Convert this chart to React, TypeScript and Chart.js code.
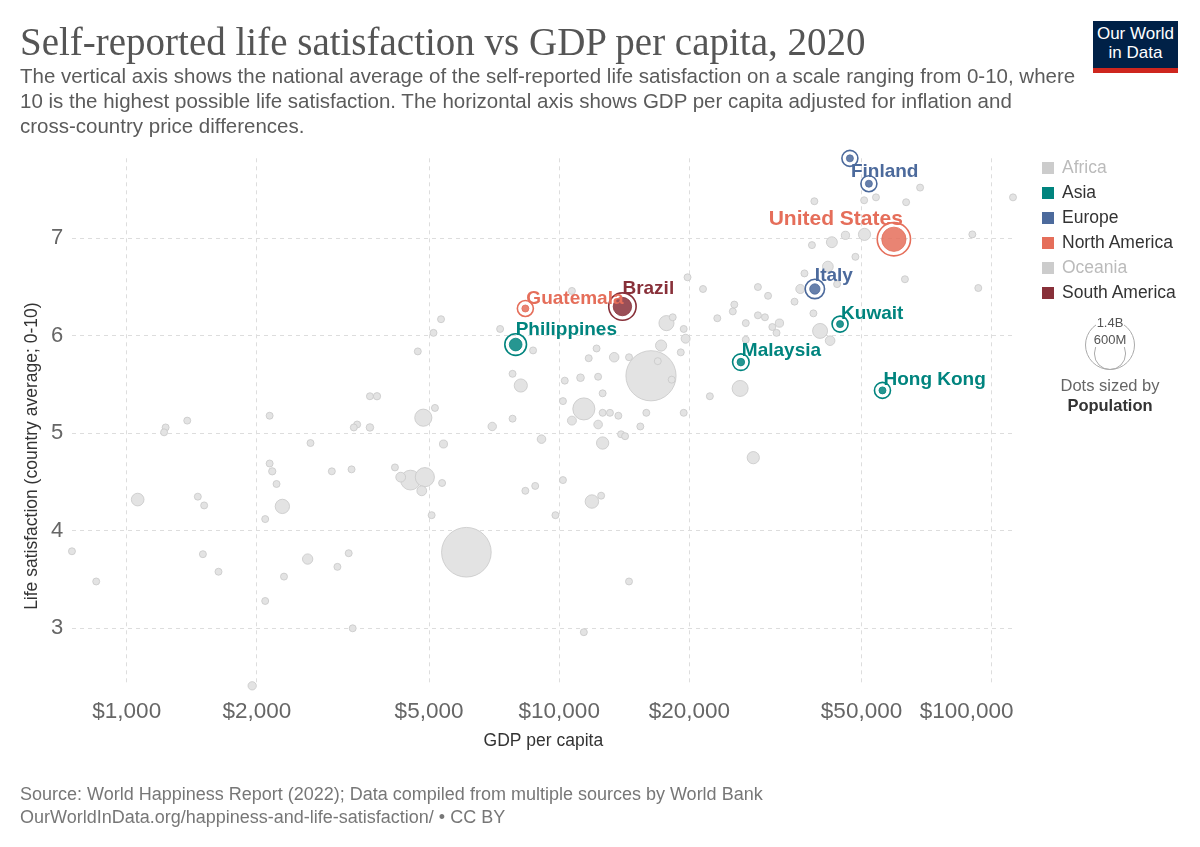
import React, { useEffect, useRef } from "react";
import { Chart, registerables } from "chart.js";

Chart.register(...registerables);

// ---------- data ----------
const xTickValues = [1000, 2000, 5000, 10000, 20000, 50000, 100000];
const yTickValues = [3, 4, 5, 6, 7];

const continents = ["Africa", "Asia", "Europe", "North America", "Oceania", "South America"];
const continentActive = [false, true, true, true, false, true];

// background (grey) countries: GDP per capita, life satisfaction, population (millions)
const bgGdp = [
  68300, 112000, 38900, 50700, 54000, 63400, 42700, 45900, 50800, 90200,
  38400, 48400, 41800, 36900, 63000, 93100, 36100, 28800, 30400, 35000,
  43900, 25400, 25200, 38700, 23200, 28800, 29900, 27000, 32300, 31100,
  31800, 40100, 42300, 27000, 26200, 19800, 21500, 10700, 17700, 18300,
  19400, 19600, 17200, 19100, 12200, 11700, 13400, 14500, 16900, 16300,
  18200, 10300, 11200, 12300, 12600, 10200, 22300, 11400, 12600, 13100,
  13700, 15900, 19400, 10700, 12300, 15400, 9100, 12600, 13900, 14200,
  7800, 7000, 5400, 28100, 10200, 8350, 8800, 11900, 12500, 9800,
  14500, 11400, 6100, 7300, 5330, 5120, 4710, 8700, 7800, 8150,
  3650, 3790, 5160, 4850, 3350, 3410, 3650, 4170, 4300, 4530,
  4890, 4810, 5360, 5070, 2140, 1380, 1230, 1220, 2660, 2140,
  2170, 2220, 2980, 3310, 1060, 1460, 1510, 2290, 2090, 747,
  850, 1500, 1630, 2620, 3260, 3070, 2310, 2090, 3330, 1950,
];
const bgLife = [
  7.52, 7.42, 7.38, 7.39, 7.42, 7.37, 6.96, 7.03, 7.04, 7.04,
  6.93, 6.81, 6.71, 6.64, 6.58, 6.49, 6.48, 6.50, 6.41, 6.35,
  6.53, 6.32, 6.25, 6.23, 6.18, 6.21, 6.19, 6.13, 6.13, 6.09,
  6.03, 6.05, 5.95, 5.96, 5.46, 6.60, 6.48, 6.46, 6.13, 6.19,
  6.07, 5.97, 5.90, 5.83, 5.87, 5.77, 5.78, 5.78, 5.74, 5.59,
  5.55, 5.54, 5.57, 5.58, 5.41, 5.33, 5.38, 5.25, 5.21, 5.21,
  5.18, 5.21, 5.21, 5.13, 5.09, 5.07, 4.94, 4.90, 4.99, 4.97,
  5.15, 5.07, 4.89, 4.75, 4.52, 4.41, 4.46, 4.30, 4.36, 4.16,
  3.48, 2.96, 3.78, 6.07, 6.17, 6.03, 5.84, 5.85, 5.61, 5.49,
  5.38, 5.38, 5.26, 5.16, 5.06, 5.09, 5.06, 4.65, 4.55, 4.52,
  4.55, 4.41, 4.49, 4.16, 5.18, 5.13, 5.06, 5.01, 4.90, 4.69,
  4.61, 4.48, 4.61, 4.63, 4.32, 4.35, 4.26, 4.25, 4.12, 3.79,
  3.48, 3.76, 3.58, 3.71, 3.77, 3.63, 3.53, 3.28, 3.00, 2.41,
];
const bgPop = [
  9, 0.6, 10, 9, 17, 8, 67, 38, 83, 5,
  9, 5, 65, 10, 3, 1, 47, 2, 10, 9,
  26, 1.3, 2, 5, 3, 10, 4, 2.8, 38, 5.5,
  2, 126, 52, 4, 144, 0.5, 3.5, 6, 128, 3,
  19, 45, 70, 7, 6.5, 3.5, 51, 10, 2, 1410,
  7, 17, 33, 7, 4, 11, 7, 273, 3, 2,
  6, 2, 2, 45, 42, 2.8, 41, 85, 10, 7,
  7, 40, 36, 84, 7, 2, 4, 102, 10, 7,
  2, 7, 1380, 6.5, 0.4, 6, 3, 10, 9, 97,
  17, 30, 8, 165, 7, 12, 32, 9, 54, 220,
  206, 54, 17, 10, 8, 8, 19, 6, 26, 12,
  30, 19, 12, 17, 90, 17, 20, 115, 26, 12,
  5, 19, 14, 60, 8, 16, 17, 19, 2, 39,
];

// highlighted countries
const hlNames = ["Finland", "Denmark", "United States", "Italy", "Kuwait", "Malaysia", "Hong Kong", "Philippines", "Guatemala", "Brazil"];
const hlContinent = ["Europe", "Europe", "North America", "Europe", "Asia", "Asia", "Asia", "Asia", "North America", "South America"];
const hlGdp = [47000, 52000, 59400, 39000, 44600, 26300, 55900, 7930, 8350, 14000];
const hlLife = [7.82, 7.56, 6.99, 6.48, 6.12, 5.73, 5.44, 5.91, 6.28, 6.30];
const hlPop = [5.5, 5.8, 330, 60, 4.3, 32, 7.5, 90, 17, 190];
const hlShowLabel = [true, false, true, true, true, true, true, true, true, true];

const sizeLegendPops = [1400, 600];
const sizeLegendLabels = ["1.4B", "600M"];

// ---------- styles ----------
const SANS = '"Liberation Sans", Arial, Helvetica, sans-serif';
const SERIF = '"Liberation Serif", "Times New Roman", serif';

const COLORS: Record<string, string> = {
  Africa: "#cccccc",
  Asia: "#00847e",
  Europe: "#4c6a9c",
  "North America": "#e56e5a",
  Oceania: "#cccccc",
  "South America": "#883039",
};

const LABEL_STYLE: Record<string, { dx: number; dy: number; align: CanvasTextAlign; size: number }> = {
  Finland: { dx: 1, dy: 13, align: "left", size: 19 },
  "United States": { dx: 9, dy: -20, align: "right", size: 21 },
  Italy: { dx: 0, dy: -13, align: "left", size: 19 },
  Kuwait: { dx: 1, dy: -10, align: "left", size: 19 },
  Malaysia: { dx: 1, dy: -11, align: "left", size: 19 },
  "Hong Kong": { dx: 1, dy: -11, align: "left", size: 19 },
  Philippines: { dx: 0, dy: -15, align: "left", size: 19 },
  Guatemala: { dx: 1, dy: -10, align: "left", size: 19 },
  Brazil: { dx: 0, dy: -18, align: "left", size: 19 },
};

const MAX_R = 25;
const MIN_R = 3.5;
const radiusFor = (pop: number) => Math.max(MIN_R, MAX_R * Math.sqrt(pop / 1400));

function rgba(hex: string, a: number) {
  const n = parseInt(hex.slice(1), 16);
  return `rgba(${(n >> 16) & 255},${(n >> 8) & 255},${n & 255},${a})`;
}

const labelPlugin = {
  id: "countryLabels",
  afterDatasetsDraw(chart: any) {
    const { ctx } = chart;
    const xs = chart.scales.x;
    const ys = chart.scales.y;
    hlNames.forEach((name, i) => {
      if (!hlShowLabel[i]) return;
      const st = LABEL_STYLE[name];
      if (!st) return;
      const px = xs.getPixelForValue(hlGdp[i]);
      const py = ys.getPixelForValue(hlLife[i]);
      ctx.save();
      ctx.font = `bold ${st.size}px ${SANS}`;
      ctx.fillStyle = COLORS[hlContinent[i]];
      ctx.textAlign = st.align;
      ctx.textBaseline = "middle";
      ctx.fillText(name, px + st.dx, py + st.dy);
      ctx.restore();
    });
  },
};

export default function App() {
  const canvasRef = useRef<HTMLCanvasElement | null>(null);

  useEffect(() => {
    if (!canvasRef.current) return;
    Chart.defaults.font.family = SANS;

    const order = bgGdp.map((_, i) => i).sort((a, b) => bgPop[b] - bgPop[a]);
    const greyData = order.map((i) => ({ x: bgGdp[i], y: bgLife[i], r: radiusFor(bgPop[i]) }));
    const hlData = hlNames.map((_, i) => ({ x: hlGdp[i], y: hlLife[i], r: radiusFor(hlPop[i]) }));
    const ringData = hlNames.map((_, i) => ({ x: hlGdp[i], y: hlLife[i], r: radiusFor(hlPop[i]) + 4.5 }));
    const hlColors = hlContinent.map((c) => COLORS[c]);

    const chart = new Chart(canvasRef.current, {
      type: "bubble",
      data: {
        datasets: [
          {
            label: "highlighted",
            data: hlData,
            backgroundColor: hlColors.map((c) => rgba(c, 0.85)),
            borderColor: hlColors,
            borderWidth: 0.8,
            order: 1,
            clip: false,
          },
          {
            label: "rings",
            data: ringData,
            backgroundColor: "rgba(0,0,0,0)",
            borderColor: hlColors,
            borderWidth: 1.6,
            order: 2,
            clip: false,
          },
          {
            label: "other",
            data: greyData,
            backgroundColor: "#e3e3e3",
            borderColor: "#c8c8c8",
            borderWidth: 0.8,
            order: 3,
            clip: false,
          },
        ],
      } as any,
      options: {
        responsive: false,
        animation: false,
        events: [],
        layout: { padding: { left: 11.7, right: 185, top: 158.3, bottom: 86 } },
        plugins: { legend: { display: false }, tooltip: { enabled: false }, title: { display: false } },
        scales: {
          x: {
            type: "logarithmic",
            min: 746,
            max: 113200,
            afterBuildTicks: (ax: any) => {
              ax.ticks = xTickValues.map((v) => ({ value: v }));
            },
            afterFit: (ax: any) => {
              ax.height = 75;
            },
            ticks: {
              autoSkip: false,
              maxRotation: 0,
              minRotation: 0,
              padding: 12,
              color: "#666",
              font: { size: 22.5 },
              callback: (v: any) => {
                const s = "$" + Number(v).toLocaleString("en-US");
                return Number(v) === 100000 ? s + "        " : s;
              },
            },
            grid: { color: "#dddddd", drawTicks: false, lineWidth: 1 },
            border: { display: false, dash: [4, 4] },
            title: {
              display: true,
              text: "GDP per capita",
              color: "#333",
              font: { size: 17.5 },
              padding: { top: 0, bottom: 9.5 },
            },
          },
          y: {
            type: "linear",
            min: 2.408,
            max: 7.8205,
            afterBuildTicks: (ax: any) => {
              ax.ticks = yTickValues.map((v) => ({ value: v }));
            },
            afterFit: (ax: any) => {
              ax.width = 60;
            },
            ticks: { padding: 8.5, color: "#666", font: { size: 22 } },
            grid: { color: "#dddddd", drawTicks: false, lineWidth: 1 },
            border: { display: false, dash: [4, 4] },
            title: {
              display: true,
              // trailing spaces shift the rotated label down to sit where the reference has it
              text: "Life satisfaction (country average; 0-10)" + "              ",
              color: "#333",
              font: { size: 17.5 },
              padding: { top: 10, bottom: 0 },
            },
          },
        },
      } as any,
      plugins: [labelPlugin],
    });
    return () => chart.destroy();
  }, []);

  const bigR = radiusFor(sizeLegendPops[0]);
  const smallR = radiusFor(sizeLegendPops[1]);
  const circleCx = 1110;
  const circleBottom = 370;

  return (
    <div
      style={{
        position: "absolute",
        left: 0,
        top: 0,
        width: 1200,
        height: 847,
        background: "#fff",
        overflow: "hidden",
        fontFamily: SANS,
      }}
    >
      <canvas ref={canvasRef} width={1200} height={847} style={{ position: "absolute", left: 0, top: 0 }} />

      <div
        style={{
          position: "absolute",
          left: 20,
          top: 20,
          fontFamily: SERIF,
          fontSize: 39,
          lineHeight: "44px",
          color: "#555",
          whiteSpace: "nowrap",
        }}
      >
        Self-reported life satisfaction vs GDP per capita, 2020
      </div>
      <div
        style={{
          position: "absolute",
          left: 20,
          top: 62.5,
          fontSize: 20.5,
          lineHeight: "25px",
          color: "#5b5b5b",
          whiteSpace: "nowrap",
        }}
      >
        <div>The vertical axis shows the national average of the self-reported life satisfaction on a scale ranging from 0-10, where</div>
        <div>10 is the highest possible life satisfaction. The horizontal axis shows GDP per capita adjusted for inflation and</div>
        <div>cross-country price differences.</div>
      </div>

      <div
        style={{
          position: "absolute",
          left: 1093,
          top: 21,
          width: 85,
          height: 44,
          background: "#002147",
          borderBottom: "5px solid #ce261e",
          color: "#fff",
          fontSize: 17,
          lineHeight: "19px",
          textAlign: "center",
          paddingTop: 3,
          boxSizing: "content-box",
        }}
      >
        <div>Our World</div>
        <div>in Data</div>
      </div>

      {continents.map((c, i) => (
        <div
          key={c}
          style={{
            position: "absolute",
            left: 1042,
            top: 167.5 + i * 25 - 11,
            height: 22,
            display: "flex",
            alignItems: "center",
            whiteSpace: "nowrap",
          }}
        >
          <div style={{ width: 12, height: 12, background: continentActive[i] ? COLORS[c] : "#cccccc", marginRight: 8 }} />
          <div style={{ fontSize: 17.5, color: continentActive[i] ? "#333" : "#bbbbbb" }}>{c}</div>
        </div>
      ))}

      {[bigR, smallR].map((r, i) => (
        <div
          key={"c" + i}
          style={{
            position: "absolute",
            left: circleCx - r,
            top: circleBottom - 2 * r,
            width: 2 * r,
            height: 2 * r,
            borderRadius: "50%",
            border: "1px solid #aaa",
            boxSizing: "border-box",
          }}
        />
      ))}
      {sizeLegendLabels.map((t, i) => (
        <div
          key={t}
          style={{
            position: "absolute",
            left: circleCx - 20,
            width: 40,
            top: (i === 0 ? circleBottom - 2 * bigR : circleBottom - 2 * smallR) - 4,
            textAlign: "center",
            fontSize: 13,
            lineHeight: "14px",
            color: "#555",
          }}
        >
          <span style={{ background: "#fff", padding: "0 1px" }}>{t}</span>
        </div>
      ))}
      <div
        style={{
          position: "absolute",
          left: circleCx - 80,
          width: 160,
          top: 375,
          textAlign: "center",
          fontSize: 16.5,
          lineHeight: "20px",
          color: "#666",
        }}
      >
        <div>Dots sized by</div>
        <div style={{ fontWeight: "bold", color: "#333" }}>Population</div>
      </div>

      <div
        style={{
          position: "absolute",
          left: 20,
          top: 782.5,
          fontSize: 18,
          lineHeight: "23px",
          color: "#777",
          whiteSpace: "nowrap",
        }}
      >
        <div>Source: World Happiness Report (2022); Data compiled from multiple sources by World Bank</div>
        <div>OurWorldInData.org/happiness-and-life-satisfaction/ • CC BY</div>
      </div>
    </div>
  );
}
